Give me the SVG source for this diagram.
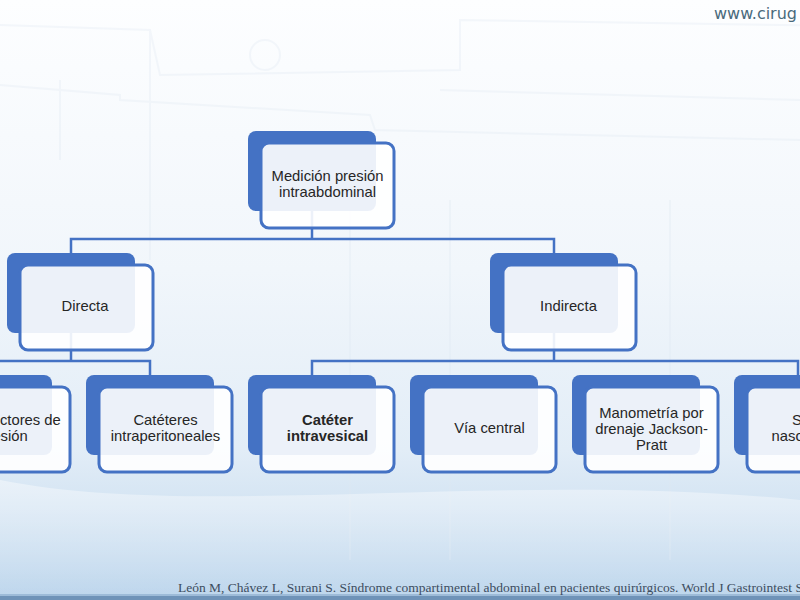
<svg xmlns="http://www.w3.org/2000/svg" width="800" height="600" viewBox="0 0 800 600">
  <defs>
    <linearGradient id="bg" x1="0" y1="0" x2="0" y2="1">
      <stop offset="0" stop-color="#fdfeff"/>
      <stop offset="0.45" stop-color="#f1f6fb"/>
      <stop offset="0.75" stop-color="#e2edf7"/>
      <stop offset="1" stop-color="#bcd5ec"/>
    </linearGradient>
    <linearGradient id="wave" x1="0" y1="0" x2="0" y2="1">
      <stop offset="0" stop-color="#ffffff" stop-opacity="0.7"/>
      <stop offset="1" stop-color="#ffffff" stop-opacity="0"/>
    </linearGradient>
    <style>
      .back { fill: #4472c4; }
      .front { fill: #ffffff; fill-opacity: 0.9; stroke: #4472c4; stroke-width: 3; }
      .lbl { font-family: "Liberation Sans", Arial, sans-serif; font-size: 14.8px; fill: #262626; text-anchor: middle; }
      .bold { font-weight: bold; }
      .conn { fill: none; stroke: #4472c4; stroke-width: 2.5; }
      .wm { fill: none; stroke: #dfe8f2; stroke-width: 2; }
    </style>
  </defs>

  <!-- background -->
  <rect x="0" y="0" width="800" height="600" fill="url(#bg)"/>
  <g opacity="0.3">
    <path class="wm" d="M0,25 L150,30 L160,75 L460,70 L460,20 L1110,30"/>
    <path class="wm" d="M60,80 L60,160 M150,30 L150,260"/>
    <circle cx="265" cy="55" r="15" class="wm"/>
    <path class="wm" d="M0,85 L120,95 L120,100 L370,115 L375,130 L800,140"/>
    <path class="wm" d="M440,90 L800,100"/>
    <path class="wm" d="M350,200 L350,560 M450,200 L450,560 M670,200 L670,560"/>
  </g>
  <path d="M0,480 C200,520 500,470 800,500 L800,600 L0,600 Z" fill="url(#wave)" opacity="0.6"/>
  <rect x="0" y="594" width="800" height="6" fill="#9dbbd8"/>
  <rect x="0" y="596" width="800" height="4" fill="#6f93b8"/>

  <text x="714" y="19" font-family="'DejaVu Sans', Verdana, sans-serif" font-size="16" fill="#4a6a7c">www.cirug</text>

  <text x="178" y="592" font-family="'Liberation Serif', 'Times New Roman', serif" font-size="13.5" fill="#3d4d60">León M, Chávez L, Surani S. Síndrome compartimental abdominal en pacientes quirúrgicos. World J Gastrointest S</text>

  <!-- connectors -->
  <g id="connectors">
    <path class="conn" d="M312,211 V239"/>
    <path class="conn" d="M71,253 V239 H554 V253"/>
    <path class="conn" d="M71,333 V361"/>
    <path class="conn" d="M-12,375 V361 H150 V375"/>
    <path class="conn" d="M554,333 V361"/>
    <path class="conn" d="M312,375 V361 H798 V375"/>
  </g>

  <!-- nodes -->
  <g id="node-root">
    <rect class="back" x="248" y="131" width="128" height="80" rx="8"/>
    <rect class="front" x="261" y="143" width="133" height="85" rx="8"/>
    <text class="lbl" x="327.5" y="181">Medición presión</text>
    <text class="lbl" x="327.5" y="196.5">intraabdominal</text>
  </g>

  <g id="node-directa">
    <rect class="back" x="7" y="253" width="128" height="80" rx="8"/>
    <rect class="front" x="20" y="265" width="133" height="85" rx="8"/>
    <text class="lbl" x="85" y="311">Directa</text>
  </g>

  <g id="node-indirecta">
    <rect class="back" x="490" y="253" width="128" height="80" rx="8"/>
    <rect class="front" x="503" y="265" width="133" height="85" rx="8"/>
    <text class="lbl" x="568.5" y="311">Indirecta</text>
  </g>

  <g id="node-transductores">
    <rect class="back" x="-76" y="375" width="128" height="80" rx="8"/>
    <rect class="front" x="-63" y="387" width="133" height="85" rx="8"/>
    <text class="lbl" x="3.5" y="425">Transductores de</text>
    <text class="lbl" x="3.5" y="441">presión</text>
  </g>

  <g id="node-cateteres">
    <rect class="back" x="86" y="375" width="128" height="80" rx="8"/>
    <rect class="front" x="99" y="387" width="133" height="85" rx="8"/>
    <text class="lbl" x="165.5" y="425">Catéteres</text>
    <text class="lbl" x="165.5" y="441">intraperitoneales</text>
  </g>

  <g id="node-intravesical">
    <rect class="back" x="248" y="375" width="128" height="80" rx="8"/>
    <rect class="front" x="261" y="387" width="133" height="85" rx="8"/>
    <text class="lbl bold" x="327.5" y="425">Catéter</text>
    <text class="lbl bold" x="327.5" y="441">intravesical</text>
  </g>

  <g id="node-viacentral">
    <rect class="back" x="410" y="375" width="128" height="80" rx="8"/>
    <rect class="front" x="423" y="387" width="133" height="85" rx="8"/>
    <text class="lbl" x="489.5" y="433">Vía central</text>
  </g>

  <g id="node-manometria">
    <rect class="back" x="572" y="375" width="128" height="80" rx="8"/>
    <rect class="front" x="585" y="387" width="133" height="85" rx="8"/>
    <text class="lbl" x="651.5" y="418">Manometría por</text>
    <text class="lbl" x="651.5" y="434">drenaje Jackson-</text>
    <text class="lbl" x="651.5" y="450">Pratt</text>
  </g>

  <g id="node-sonda">
    <rect class="back" x="734" y="375" width="128" height="80" rx="8"/>
    <rect class="front" x="747" y="387" width="133" height="85" rx="8"/>
    <text class="lbl" x="813.5" y="425">Sonda</text>
    <text class="lbl" x="813.5" y="441">nasogástrica</text>
  </g>
</svg>
